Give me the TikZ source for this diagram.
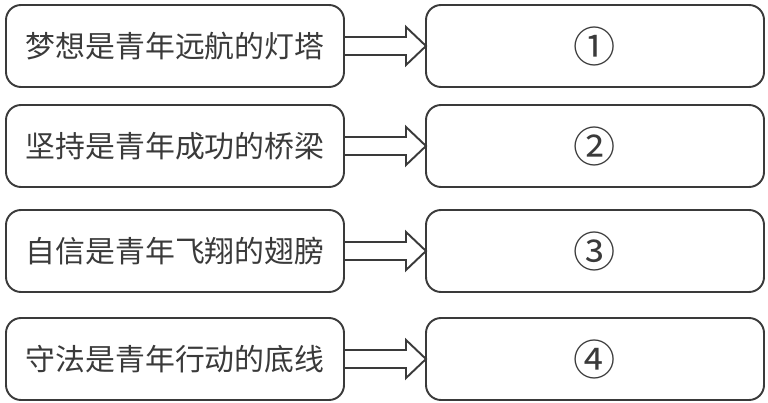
\documentclass[tikz,border=0pt]{standalone}
\usepackage{fontspec}
\newfontfamily\cjk{Noto Sans CJK SC}
\usetikzlibrary{positioning}
\usetikzlibrary{calc}
\definecolor{inkgray}{HTML}{3A3A3A}
\tikzstyle{stmt} = [rectangle, rounded corners=0.3cm, draw=inkgray, line width=1.1pt, minimum width=6.76cm, minimum height=1.64cm, inner sep=0pt, outer sep=0pt, text=inkgray, font=\cjk\fontsize{17}{17}\selectfont]
\tikzstyle{blank} = [stmt, node distance=1.64cm, font=\cjk\fontsize{24}{24}\selectfont]
\newcommand{\hollowarrow}[2]{%
  \draw[draw=inkgray, line width=1.1pt, line join=miter]
    ($(#1.east)+(0,0.18)$) -| ($(#2.west)+(-0.4,0.38)$) -- (#2.west)
    -- ($(#2.west)+(-0.4,-0.38)$) |- ($(#1.east)+(0,-0.18)$);%
}

\begin{document}
\begin{tikzpicture}
\useasboundingbox (0,0) rectangle (15.36,-8.06);

% Define nodes
\node[stmt] at (3.5,-0.92)                    (s1) {梦想是青年远航的灯塔};
\node[stmt, below = 0.36cm of s1]             (s2) {坚持是青年成功的桥梁};
\node[stmt, below = 0.46cm of s2]             (s3) {自信是青年飞翔的翅膀};
\node[stmt, below = 0.52cm of s3]             (s4) {守法是青年行动的底线};

\node[blank, right = of s1]                   (b1) {①};
\node[blank, right = of s2]                   (b2) {②};
\node[blank, right = of s3]                   (b3) {③};
\node[blank, right = of s4]                   (b4) {④};

% Arrows
\foreach \i in {1,...,4}
  \hollowarrow{s\i}{b\i};

\end{tikzpicture}
\end{document}
